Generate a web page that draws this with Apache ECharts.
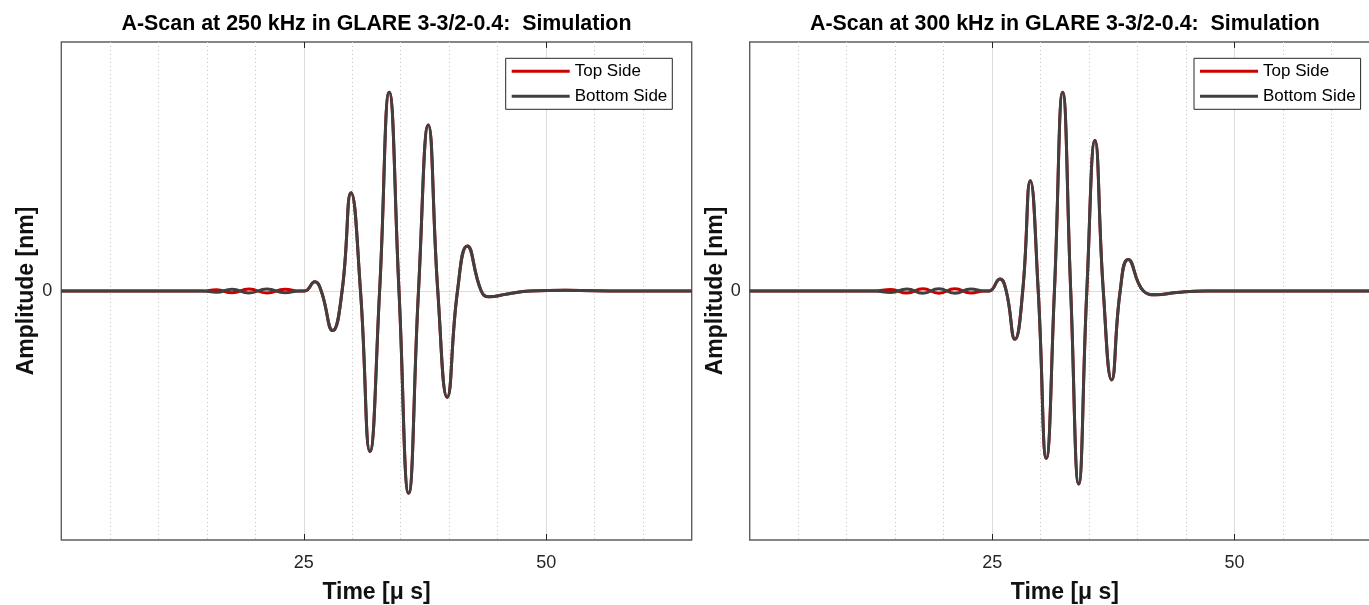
<!DOCTYPE html>
<html>
<head>
<meta charset="utf-8">
<script src="https://cdn.jsdelivr.net/npm/echarts@6/dist/echarts.min.js"></script>
<style>
html,body{margin:0;padding:0;background:#fff;}
#chart{width:1369px;height:605px;}
</style>
</head>
<body>
<div id="chart"></div>
<script>
// ---- data ----
const titles = ['A-Scan at 250 kHz in GLARE 3-3/2-0.4:  Simulation', 'A-Scan at 300 kHz in GLARE 3-3/2-0.4:  Simulation'];
const seriesNames = ['Top Side', 'Bottom Side'];
const xTickLabels = [25, 50];
const yTickLabels = [0];

// 250 kHz panel (time in µs, normalised amplitude)
const time250 = [0, 14.5, 16.0, 17.6, 19.35, 21.2, 23.06, 24.6, 25.1, 26.15, 26.8, 27.98, 28.95, 29.87, 30.85, 31.82, 32.82, 33.81, 34.82, 35.81, 36.83, 37.84, 38.82, 39.79, 40.85, 41.86, 43.3, 44.1, 46.0, 48.3, 52, 58, 65];
const top250 = [0, 0, 0.005, -0.007, 0.008, -0.008, 0.007, 0, 0, 0.037, 0, -0.159, 0, 0.395, 0, -0.645, 0, 0.798, 0, -0.812, 0, 0.667, 0, -0.427, 0, 0.181, 0, -0.023, -0.012, 0, 0.003, 0, 0];
const bottom250 = [0, 0, -0.005, 0.007, -0.008, 0.008, -0.007, 0, 0, 0.037, 0, -0.159, 0, 0.395, 0, -0.645, 0, 0.798, 0, -0.812, 0, 0.667, 0, -0.427, 0, 0.181, 0, -0.023, -0.012, 0, 0.003, 0, 0];

// 300 kHz panel
const time300 = [0, 12.8, 14.56, 16.21, 17.86, 19.5, 21.15, 22.8, 24.2, 24.7, 25.80, 26.45, 27.35, 28.15, 28.93, 29.75, 30.58, 31.42, 32.27, 33.1, 33.92, 34.76, 35.60, 36.46, 37.32, 38.2, 39.03, 40.6, 41.9, 44, 47, 65];
const top300 = [0, 0, 0.006, -0.008, 0.009, -0.009, 0.009, -0.008, 0, 0, 0.048, 0, -0.194, 0, 0.443, 0, -0.672, 0, 0.798, 0, -0.775, 0, 0.604, 0, -0.357, 0, 0.127, 0, -0.015, -0.006, 0, 0];
const bottom300 = [0, 0, -0.006, 0.008, -0.009, 0.009, -0.009, 0.008, 0, 0, 0.048, 0, -0.194, 0, 0.443, 0, -0.672, 0, 0.798, 0, -0.775, 0, 0.604, 0, -0.357, 0, 0.127, 0, -0.015, -0.006, 0, 0];

// ---- chart ----
const FONT = '"Liberation Sans", Arial, Helvetica, sans-serif';
const RED = '#cc0000', GRAY = '#404040';
const panels = [
  {left: 61.3, time: time250, top: top250, bottom: bottom250, legendLeft: 505.7},
  {left: 749.7, time: time300, top: top300, bottom: bottom300, legendLeft: 1194}
];
const PW = 630.4, PT = 42, PH = 498;

const grids = [], xAxes = [], yAxes = [], series = [], legends = [], graphics = [];
const tickStyle = {color: '#262626', width: 1};
const noLine = {show: false, onZero: false};
panels.forEach((p, i) => {
  grids.push({left: p.left, top: PT, width: PW, height: PH, show: true, borderColor: '#5e5e5e', borderWidth: 1.4,
    backgroundColor: 'transparent', containLabel: false, outerBoundsMode: 'none'});
  const xi = xAxes.length, yi = yAxes.length;
  // main x axis (labels, ticks, solid major grid)
  xAxes.push({gridIndex: i, type: 'value', min: 0, max: 65, interval: 25, position: 'bottom', z: 1,
    axisLine: noLine,
    axisTick: {show: true, inside: true, length: 6, customValues: xTickLabels, lineStyle: tickStyle},
    axisLabel: {show: true, margin: 14, fontSize: 18, color: '#262626', fontFamily: FONT, customValues: xTickLabels,
      formatter: v => xTickLabels.includes(v) ? String(v) : ''},
    splitLine: {show: true, lineStyle: {color: '#dcdcdc', width: 1, type: 'solid'}},
    name: 'Time [\u03bc s]', nameLocation: 'middle', nameGap: 41,
    nameTextStyle: {fontSize: 23, fontWeight: 'bold', color: '#111', fontFamily: FONT}
  });
  // top x axis (ticks only)
  xAxes.push({gridIndex: i, type: 'value', min: 0, max: 65, interval: 25, position: 'top', z: 1,
    axisLine: noLine, axisLabel: {show: false}, splitLine: {show: false},
    axisTick: {show: true, inside: true, length: 6, customValues: xTickLabels, lineStyle: tickStyle}
  });
  // minor dotted grid axis
  xAxes.push({gridIndex: i, type: 'value', min: 0, max: 65, interval: 5, position: 'bottom', z: 0,
    axisLine: noLine, axisLabel: {show: false}, axisTick: {show: false},
    splitLine: {show: true, showMinLine: false, showMaxLine: false, lineStyle: {color: '#c4c4c4', width: 1, type: [1, 3]}}
  });
  yAxes.push({gridIndex: i, type: 'value', min: -1, max: 1, interval: 1, position: 'left',
    axisLine: noLine,
    axisTick: {show: true, inside: true, length: 6, customValues: yTickLabels, lineStyle: tickStyle},
    axisLabel: {show: true, margin: 9, fontSize: 18, color: '#262626', fontFamily: FONT, customValues: yTickLabels,
      formatter: v => yTickLabels.includes(v) ? String(v) : ''},
    splitLine: {show: true, lineStyle: {color: '#dcdcdc', width: 1}},
    name: 'Amplitude [nm]', nameLocation: 'middle', nameGap: 23,
    nameTextStyle: {fontSize: 23, fontWeight: 'bold', color: '#111', fontFamily: FONT}
  });
  yAxes.push({gridIndex: i, type: 'value', min: -1, max: 1, interval: 1, position: 'right',
    axisLine: noLine, axisLabel: {show: false}, splitLine: {show: false},
    axisTick: {show: true, inside: true, length: 6, customValues: yTickLabels, lineStyle: tickStyle}
  });
  series.push({name: seriesNames[0], type: 'line', xAxisIndex: xi, yAxisIndex: yi, showSymbol: false, smooth: 0.5,
    color: RED, lineStyle: {color: RED, width: 3}, data: p.time.map((t, k) => [t, p.top[k]]), z: 3, clip: true});
  series.push({name: seriesNames[1], type: 'line', xAxisIndex: xi, yAxisIndex: yi, showSymbol: false, smooth: 0.5,
    color: GRAY, lineStyle: {color: GRAY, width: 3}, data: p.time.map((t, k) => [t, p.bottom[k]]), z: 4, clip: true});
  legends.push({left: p.legendLeft, top: 58.3, orient: 'vertical', icon: 'rect', itemWidth: 58, itemHeight: 3,
    itemGap: 5, padding: [3, 5, 3, 6], borderColor: '#262626', borderWidth: 1, backgroundColor: '#fff',
    selectedMode: false, data: seriesNames,
    textStyle: {fontSize: 17, color: '#000', fontFamily: FONT, lineHeight: 20}});
  graphics.push({type: 'text', x: p.left + PW / 2, y: 24.5, z: 10,
    style: {text: titles[i], font: 'bold 21.4px ' + FONT, fill: '#000', align: 'center', verticalAlign: 'middle'}});
});

const chart = echarts.init(document.getElementById('chart'), null, {renderer: 'canvas'});
chart.setOption({
  animation: false,
  backgroundColor: '#fff',
  grid: grids, xAxis: xAxes, yAxis: yAxes, series: series, legend: legends, graphic: graphics,
  tooltip: {show: false}
});
</script>
</body>
</html>
